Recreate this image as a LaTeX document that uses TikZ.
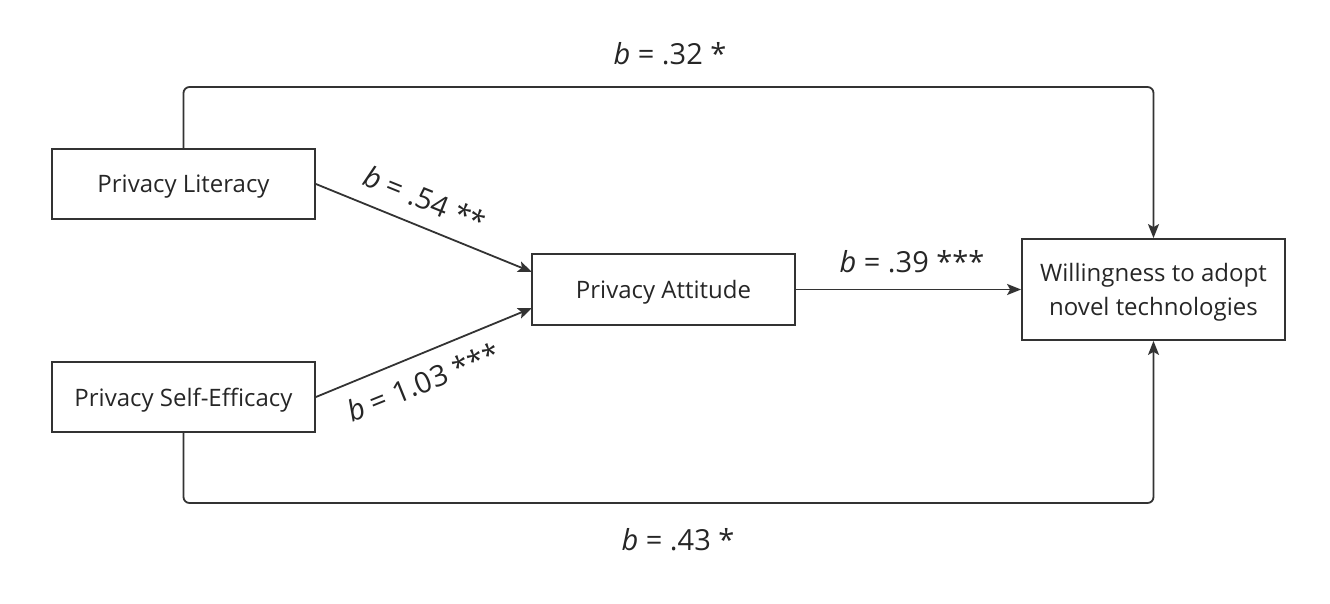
\documentclass[tikz,border=0pt]{standalone}
\usepackage{fontspec}
\setmainfont{Open Sans}
\usetikzlibrary{arrows.meta}
\begin{document}
\begin{tikzpicture}[x=1pt,y=-1pt,
  box/.style={draw=black!80,line width=1.8pt,minimum width=263pt,inner sep=0pt,align=center,font=\fontsize{24}{34}\selectfont,text=black!85,text depth=0pt},
  conn/.style={draw=black!80,line width=1.8pt,-{Stealth[length=14pt,width=11pt,inset=3pt]}},
  lab/.style={font=\fontsize{29}{34}\selectfont,text=black!85}]
\useasboundingbox (0,0) rectangle (1330,603);
\node[box,minimum height=70pt] (lit) at (183.5,184) {Privacy Literacy};
\node[box,minimum height=70pt] (self) at (183.5,397) {Privacy Self-Efficacy};
\node[box,minimum height=71pt] (att) at (663.5,289.5) {Privacy Attitude};
\node[box,minimum height=101pt] (wil) at (1153.5,289.5) {Willingness to adopt\\novel technologies};
\coordinate (a1) at (532,272);
\coordinate (a2) at (532,308);
\draw[conn] (lit.east) -- (a1);
\draw[conn] (self.east) -- (a2);
\draw[conn] (att.east) -- (wil.west);
\draw[conn,rounded corners=6pt] (lit.north) |- (wil.north |- 0,87) -- (wil.north);
\draw[conn,rounded corners=6pt] (self.south) |- (wil.south |- 0,503) -- (wil.south);
\node[lab] (l1) at (670,54) {\textit{b} = .32 *};
\node[lab] (l2) at (678,540) {\textit{b} = .43 *};
\node[lab] (l3) at (912,262) {\textit{b} = .39 ***};
\node[lab,rotate=-22] (l4) at (425,199) {\textit{b} = .54 **};
\node[lab,rotate=22] (l5) at (423,382) {\textit{b} = 1.03 ***};
\end{tikzpicture}
\end{document}
